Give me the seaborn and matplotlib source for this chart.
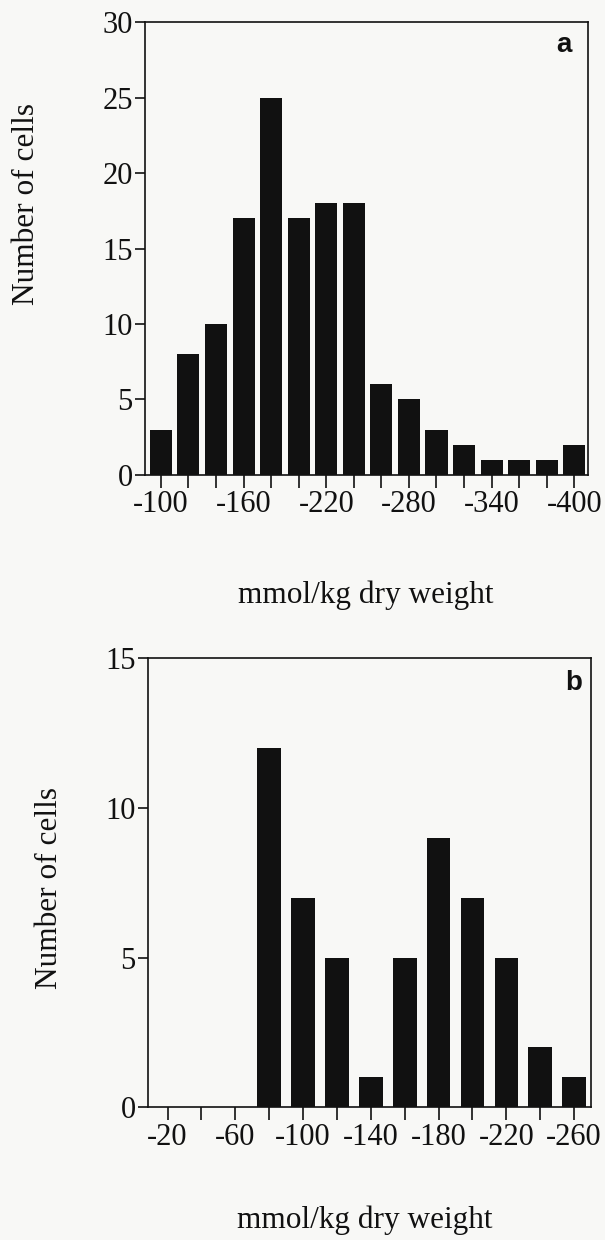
import matplotlib
matplotlib.use("Agg")
import matplotlib.pyplot as plt
import seaborn as sns
import pandas as pd

# panel a: bins of 20 mmol/kg from -100 to -400
bins_a = [-100, -120, -140, -160, -180, -200, -220, -240,
          -260, -280, -300, -320, -340, -360, -380, -400]
counts_a = [3, 8, 10, 17, 25, 17, 18, 18, 6, 5, 3, 2, 1, 1, 1, 2]
labels_a = ['-100', '-160', '-220', '-280', '-340', '-400']

# panel b: bins of 20 mmol/kg from -20 to -260
bins_b = [-20, -40, -60, -80, -100, -120, -140,
          -160, -180, -200, -220, -240, -260]
counts_b = [0, 0, 0, 12, 7, 5, 1, 5, 9, 7, 5, 2, 1]
labels_b = ['-20', '-60', '-100', '-140', '-180', '-220', '-260']

bg = '#f8f8f6'
ink = '#111111'

sns.set_style('ticks')
plt.rcParams['font.family'] = ['Liberation Serif', 'DejaVu Serif']
plt.rcParams['axes.edgecolor'] = ink
plt.rcParams['axes.linewidth'] = 1.2

fig = plt.figure(figsize=(6.05, 12.4), dpi=100, facecolor=bg)
ax_a = fig.add_axes([0.240, 0.617, 0.732, 0.365])
ax_b = fig.add_axes([0.245, 0.107, 0.732, 0.362])


def panel(ax, bins, counts, labels, step, ymax, width, letter, xl, yl, lpos):
    df = pd.DataFrame({'bin': [str(b) for b in bins], 'n': counts})
    sns.barplot(data=df, x='bin', y='n', color=ink, saturation=1,
                width=width, linewidth=0, ax=ax)
    ax.set_facecolor(bg)
    ax.set_xlim(-0.57, len(bins) - 0.5)
    ax.set_ylim(0, ymax)
    ax.set_yticks(range(0, ymax + 1, 5))
    ax.set_xticks(range(len(bins)))
    ticklabels = [''] * len(bins)
    for i, lab in zip(range(0, len(bins), step), labels):
        ticklabels[i] = lab
    ax.set_xticklabels(ticklabels)
    ax.tick_params(axis='both', direction='out', width=1.2,
                   labelsize=22, colors=ink)
    ax.tick_params(axis='x', length=9, pad=2)
    ax.tick_params(axis='y', length=7, pad=2)
    for s in ax.spines.values():
        s.set_visible(True)
        s.set_color(ink)
    ax.set_xlabel('mmol/kg dry weight', fontsize=22.5, color=ink)
    ax.set_ylabel('Number of cells', fontsize=22.5, color=ink)
    ax.xaxis.set_label_coords(xl[0], xl[1])
    ax.xaxis.label.set_va('center')
    ax.yaxis.set_label_coords(yl[0], yl[1])
    ax.yaxis.label.set_va('center')
    ax.text(lpos[0], lpos[1], letter, transform=ax.transAxes, ha='right',
            va='baseline', fontsize=20, fontweight='bold',
            family='Liberation Sans', color=ink)


panel(ax_a, bins_a, counts_a, labels_a, 3, 30, 0.8, 'a',
      (0.497, -0.265), (-0.269, 0.598), (0.964, 0.934))
panel(ax_b, bins_b, counts_b, labels_b, 2, 15, 0.7, 'b',
      (0.49, -0.252), (-0.223, 0.488), (0.980, 0.929))

fig.savefig('out.png', dpi=100, facecolor=bg)
